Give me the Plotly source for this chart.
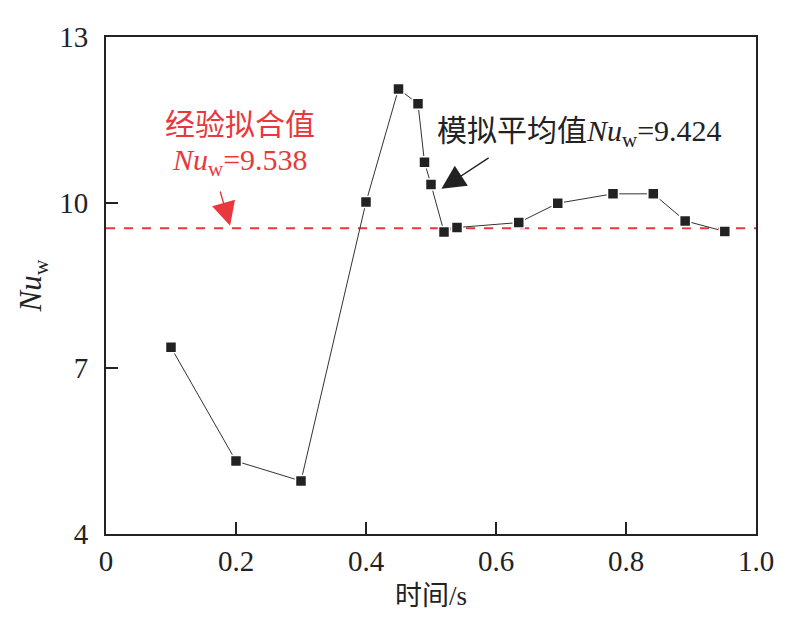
import plotly.graph_objects as go

# time (s) and simulated Nu_w
time_s = [0.1, 0.2, 0.3, 0.4, 0.45, 0.48, 0.49, 0.50, 0.52, 0.54,
          0.635, 0.695, 0.78, 0.842, 0.891, 0.952]
nu_w = [7.38, 5.32, 4.96, 10.01, 12.06, 11.79, 10.73, 10.33, 9.47, 9.55,
        9.64, 9.99, 10.16, 10.16, 9.67, 9.48]

fit_value = 9.538
sim_mean = 9.424

x_ticks = [0, 0.2, 0.4, 0.6, 0.8, 1.0]
x_tick_text = ["0", "0.2", "0.4", "0.6", "0.8", "1.0"]
y_ticks = [4, 7, 10, 13]

serif = "Liberation Serif, Noto Sans CJK SC, serif"
red = "#e8383d"
ink = "#222222"

fig = go.Figure()

# fitted value (dashed red line)
fig.add_trace(go.Scatter(
    x=[0, 1.0],
    y=[fit_value, fit_value],
    mode="lines",
    line=dict(color=red, width=2, dash="dash"),
    showlegend=False,
    hoverinfo="skip"
))

fig.add_trace(go.Scatter(
    x=time_s,
    y=nu_w,
    mode="lines+markers",
    line=dict(color="#333333", width=1),
    marker=dict(symbol="square", size=11, color=ink,
                line=dict(color="white", width=1.5)),
    showlegend=False
))

fig.update_layout(

    width=790,
    height=617,

    paper_bgcolor="white",
    plot_bgcolor="white",

    font=dict(
        family=serif,
        color=ink,
        size=26
    ),

    margin=dict(
        l=98,
        r=42,
        t=29,
        b=91
    ),

    xaxis=dict(
        range=[0, 1.0],
        tickvals=x_ticks,
        ticktext=x_tick_text,
        ticks="inside",
        ticklen=12,
        tickwidth=2,
        tickcolor=ink,
        showline=True,
        linecolor=ink,
        linewidth=2,
        mirror=True,
        showgrid=False,
        zeroline=False,
        tickfont=dict(size=29),
        title=dict(text="时间/s", font=dict(size=27), standoff=10)
    ),

    yaxis=dict(
        range=[4, 13],
        tickvals=y_ticks,
        ticks="inside",
        ticklen=12,
        tickwidth=2,
        tickcolor=ink,
        showline=True,
        linecolor=ink,
        linewidth=2,
        mirror=True,
        showgrid=False,
        zeroline=False,
        ticklabelstandoff=10,
        tickfont=dict(size=29),
        title=dict(text="<i>Nu</i><sub>w</sub>", font=dict(size=31), standoff=8)
    ),

    annotations=[
        dict(
            x=0.206, y=11.42, xref="x", yref="y",
            text="经验拟合值", showarrow=False,
            font=dict(color=red, size=30)
        ),
        dict(
            x=0.206, y=10.74, xref="x", yref="y",
            text="<i>Nu</i><sub>w</sub>=" + f"{fit_value:.3f}", showarrow=False,
            font=dict(color=red, size=30)
        ),
        dict(
            x=0.191, y=9.58, xref="x", yref="y",
            ax=0.175, ay=10.23, axref="x", ayref="y",
            text="", showarrow=True,
            arrowhead=2, arrowsize=3.4, arrowwidth=1.4,
            arrowcolor=red
        ),
        dict(
            x=0.728, y=11.26, xref="x", yref="y",
            text="模拟平均值<i>Nu</i><sub>w</sub>=" + f"{sim_mean:.3f}",
            showarrow=False,
            font=dict(color=ink, size=30)
        ),
        dict(
            x=0.516, y=10.25, xref="x", yref="y",
            ax=0.591, ay=10.83, axref="x", ayref="y",
            text="", showarrow=True,
            arrowhead=2, arrowsize=3.4, arrowwidth=1.4,
            arrowcolor=ink
        )
    ]
)

fig.write_html("out.html")
